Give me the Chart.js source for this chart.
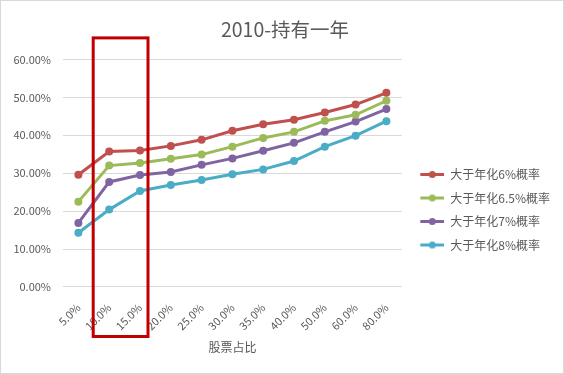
<!DOCTYPE html>
<html>
<head>
    <meta charset="utf-8">
    <title>2010-持有一年</title>
    <script src="https://cdn.jsdelivr.net/npm/chart.js"></script>
    <style>
        html, body { margin: 0; padding: 0; background: #fff; }
        .wrap {
            width: 564px; height: 374px; box-sizing: border-box;
            border: 1px solid #d9d9d9; background: #fff;
        }
        canvas { display: block; }
    </style>
</head>
<body>
    <div class="wrap">
        <canvas id="probChart" width="562" height="372"></canvas>
    </div>

    <script>
        // 股票占比
        const stockRatio = ['5.0%', '10.0%', '15.0%', '20.0%', '25.0%', '30.0%', '35.0%', '40.0%', '50.0%', '60.0%', '80.0%'];

        // 各目标收益的概率 (%)
        const rate6 = [29.6, 35.7, 36.0, 37.2, 38.8, 41.2, 42.9, 44.1, 46.0, 48.1, 51.2];
        const rate65 = [22.5, 32.0, 32.7, 33.8, 34.9, 37.0, 39.3, 40.9, 43.8, 45.4, 49.1];
        const rate7 = [16.9, 27.7, 29.5, 30.3, 32.2, 33.9, 35.9, 38.0, 40.9, 43.6, 46.9];
        const rate8 = [14.3, 20.4, 25.3, 26.9, 28.2, 29.7, 31.0, 33.2, 37.0, 39.9, 43.7];

        const seriesNames = ['大于年化6%概率', '大于年化6.5%概率', '大于年化7%概率', '大于年化8%概率'];
        const seriesData = [rate6, rate65, rate7, rate8];
        const seriesColors = ['#C0504D', '#9BBB59', '#8064A2', '#4BACC6'];

        Chart.defaults.font.family = '"Noto Sans CJK SC", "Microsoft YaHei", sans-serif';
        Chart.defaults.color = '#595959';

        // 图例里的 线+点 标记
        function legendMarker(color) {
            const c = document.createElement('canvas');
            c.width = 31;
            c.height = 9;
            const g = c.getContext('2d');
            g.strokeStyle = color;
            g.lineWidth = 3;
            g.beginPath();
            g.moveTo(7, 4.5);
            g.lineTo(31, 4.5);
            g.stroke();
            g.fillStyle = color;
            g.beginPath();
            g.arc(19, 4.5, 3.5, 0, Math.PI * 2);
            g.fill();
            return c;
        }
        const markers = seriesColors.map(legendMarker);

        // 红框标注 10%~15%
        const highlightBox = {
            id: 'highlightBox',
            afterDraw(chart) {
                const x = chart.scales.x;
                const area = chart.chartArea;
                const ctx = chart.ctx;
                const left = x.getPixelForValue(1) - 16;
                const right = x.getPixelForValue(2) + 8;
                ctx.save();
                ctx.strokeStyle = '#C00000';
                ctx.lineWidth = 3;
                ctx.strokeRect(left, area.top - 21.5, right - left, area.bottom - area.top + 71);
                ctx.restore();
            }
        };

        const datasets = seriesNames.map((name, i) => ({
            label: name,
            data: seriesData[i],
            borderColor: seriesColors[i],
            backgroundColor: seriesColors[i],
            pointBackgroundColor: seriesColors[i],
            borderWidth: 3,
            pointRadius: 4,
            pointBorderWidth: 0,
            tension: 0,
            fill: false
        }));

        new Chart(document.getElementById('probChart'), {
            type: 'line',
            data: { labels: stockRatio, datasets: datasets },
            plugins: [highlightBox],
            options: {
                responsive: false,
                animation: false,
                layout: { padding: { left: 9, right: 3, top: 0, bottom: 18 } },
                scales: {
                    x: {
                        offset: true,
                        grid: { display: false },
                        border: { display: false },
                        ticks: { minRotation: 45, maxRotation: 45, padding: 6, font: { size: 11 } },
                        title: { display: true, text: '股票占比', font: { size: 12 }, padding: { top: 2, bottom: 0 } }
                    },
                    y: {
                        min: 0,
                        max: 60,
                        ticks: {
                            stepSize: 10,
                            padding: 12,
                            font: { size: 11 },
                            callback: v => v.toFixed(2) + '%'
                        },
                        grid: { color: '#d9d9d9', drawTicks: false },
                        border: { display: false },
                        afterFit: s => { s.width = 53; }
                    }
                },
                plugins: {
                    title: {
                        display: true,
                        text: '2010-持有一年',
                        font: { size: 19.5, weight: 'normal' },
                        color: '#595959',
                        padding: { top: 17, bottom: 18 }
                    },
                    legend: {
                        position: 'right',
                        maxWidth: 300,
                        title: { display: true, text: '', padding: 24.5 },
                        labels: {
                            usePointStyle: true,
                            pointStyleWidth: 31,
                            padding: 11.5,
                            font: { size: 12 },
                            color: '#595959',
                            generateLabels(chart) {
                                const items = Chart.defaults.plugins.legend.labels.generateLabels(chart);
                                items.forEach((it, i) => { it.pointStyle = markers[i]; });
                                return items;
                            }
                        }
                    },
                    tooltip: { enabled: false }
                }
            }
        });
    </script>
</body>
</html>
